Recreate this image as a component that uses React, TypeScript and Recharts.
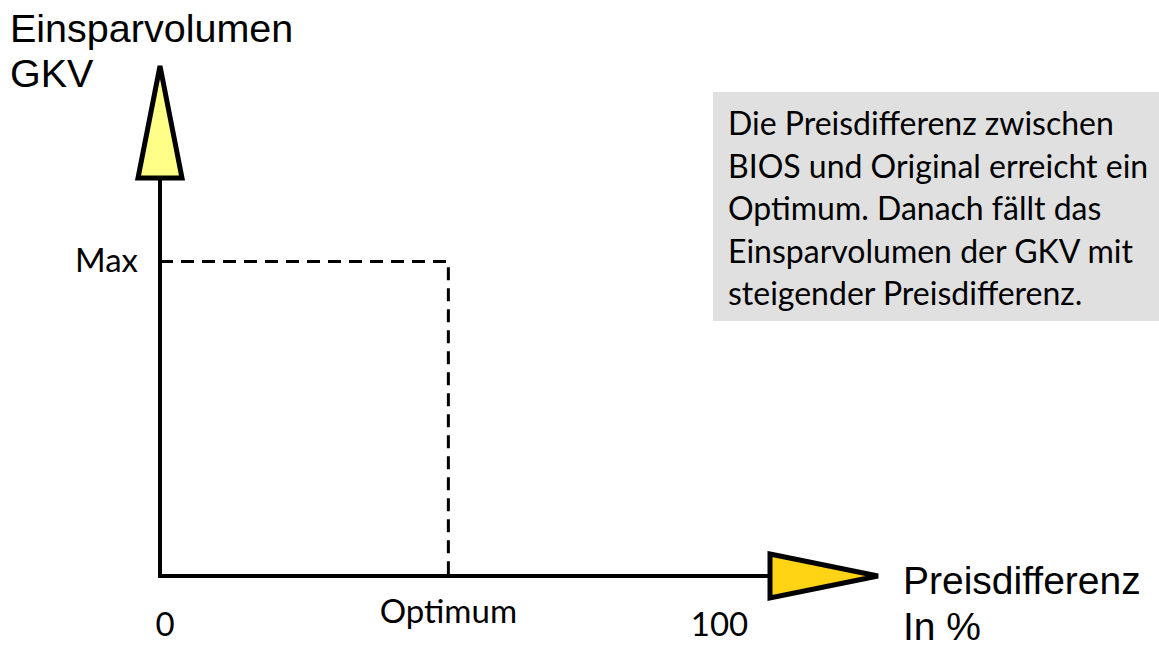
import React from 'react';
import { LineChart, Line, XAxis, YAxis, ReferenceDot } from 'recharts';

// sketch values (0..110 on x, 0..100 on y)
const optimum = 52;
const maxValue = 79;
const xTicks = [0, optimum, 100];
const xTickLabels: Record<number, string> = { 0: '0', [optimum]: 'Optimum', 100: '100' };
const yTicks = [maxValue];
const yTickLabels: Record<number, string> = { [maxValue]: 'Max' };

const guide = [
  { x: 0, y: maxValue },
  { x: optimum, y: maxValue },
  { x: optimum, y: 0 },
];

const noteLines = [
  'Die Preisdifferenz zwischen',
  'BIOS und Original erreicht ein',
  'Optimum. Danach fällt das',
  'Einsparvolumen der GKV mit',
  'steigender Preisdifferenz.',
];

const tickFont = 'Lato, "Open Sans", sans-serif';
const titleFont = '"Liberation Sans", Arial, sans-serif';

const XTick = (props: any) => {
  const { x, y, payload } = props;
  const isOpt = payload.value === optimum;
  return (
    <text
      x={x + (isOpt ? 0 : 5)}
      y={y + (isOpt ? 39 : 52)}
      textAnchor="middle"
      dominantBaseline="middle"
      fontFamily={tickFont}
      fontSize={33}
      fill="#000"
    >
      {xTickLabels[payload.value]}
    </text>
  );
};

const YTick = (props: any) => {
  const { x, y, payload } = props;
  return (
    <text
      x={x - 22}
      y={y + 2}
      textAnchor="end"
      dominantBaseline="middle"
      fontFamily={tickFont}
      fontSize={33}
      fill="#000"
    >
      {yTickLabels[payload.value]}
    </text>
  );
};

const UpArrow = (props: any) => {
  const { cx, cy } = props;
  return (
    <path
      d={`M${cx - 22},${cy} L${cx},${cy - 112} L${cx + 22},${cy} Z`}
      fill="#FFFF88"
      stroke="#000"
      strokeWidth={5}
      strokeLinejoin="miter"
    />
  );
};

const RightArrow = (props: any) => {
  const { cx, cy } = props;
  return (
    <path
      d={`M${cx},${cy - 22} L${cx + 108},${cy} L${cx},${cy + 22} Z`}
      fill="#FFD415"
      stroke="#000"
      strokeWidth={5}
      strokeLinejoin="miter"
    />
  );
};

export default function App() {
  return (
    <div style={{ position: 'absolute', left: 0, top: 0, width: 1159, height: 646, background: '#fff' }}>
      <LineChart
        width={1159}
        height={646}
        data={guide}
        margin={{ top: 178, right: 389, bottom: 69, left: 159 }}
      >
        <XAxis
          type="number"
          dataKey="x"
          domain={[0, 110]}
          ticks={xTicks}
          interval={0}
          height={1}
          tickSize={0}
          tickMargin={0}
          tickLine={false}
          axisLine={{ stroke: '#000', strokeWidth: 4, strokeLinecap: 'square' }}
          tick={<XTick />}
        />
        <YAxis
          type="number"
          domain={[0, 100]}
          ticks={yTicks}
          interval={0}
          width={1}
          tickSize={0}
          tickMargin={0}
          tickLine={false}
          axisLine={{ stroke: '#000', strokeWidth: 4, strokeLinecap: 'square' }}
          tick={<YTick />}
        />
        <Line
          type="linear"
          dataKey="y"
          stroke="#000"
          strokeWidth={3}
          strokeDasharray="13 8"
          dot={false}
          isAnimationActive={false}
        />
        <ReferenceDot x={0} y={100} ifOverflow="visible" shape={<UpArrow />} />
        <ReferenceDot x={110} y={0} ifOverflow="visible" shape={<RightArrow />} />
      </LineChart>

      <div
        style={{
          position: 'absolute',
          left: 10,
          top: 6,
          fontFamily: titleFont,
          fontSize: 39.5,
          lineHeight: '45px',
          color: '#000',
        }}
      >
        Einsparvolumen
        <br />
        GKV
      </div>

      <div
        style={{
          position: 'absolute',
          left: 903,
          top: 558,
          fontFamily: titleFont,
          fontSize: 39,
          lineHeight: '46px',
          color: '#000',
        }}
      >
        Preisdifferenz
        <br />
        In %
      </div>

      <div
        style={{
          position: 'absolute',
          left: 713,
          top: 92,
          width: 446,
          height: 229,
          background: '#E0E0E0',
          boxSizing: 'border-box',
          paddingLeft: 15,
          paddingTop: 10,
          fontFamily: tickFont,
          fontSize: 32,
          lineHeight: '42.5px',
          color: '#000',
          whiteSpace: 'nowrap',
        }}
      >
        {noteLines.map((l) => (
          <div key={l}>{l}</div>
        ))}
      </div>
    </div>
  );
}
